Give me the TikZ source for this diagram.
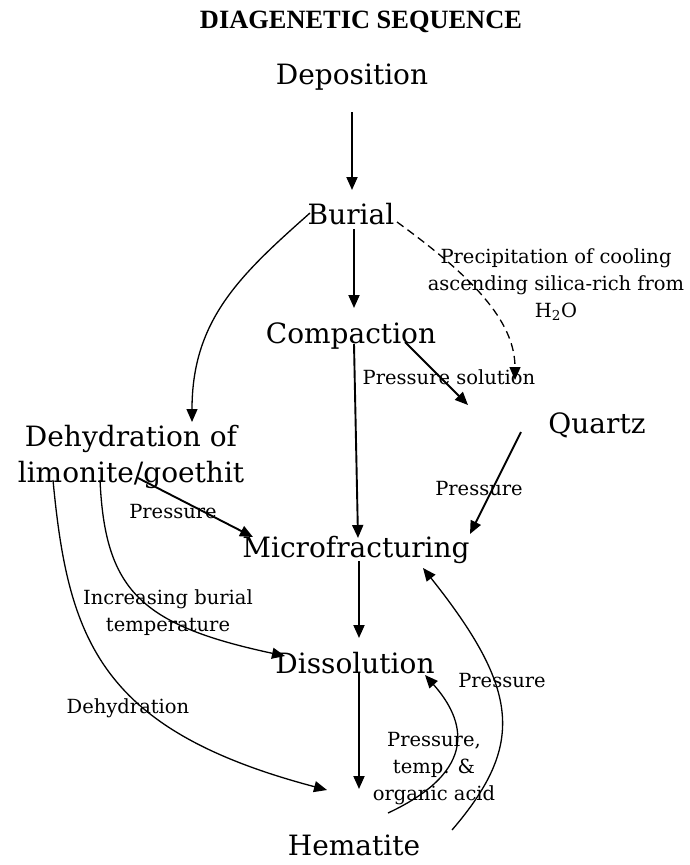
\documentclass[tikz,border=0pt]{standalone}
\usepackage{fontspec}
\setmainfont{DejaVu Serif}
\newfontfamily\titlefont{Liberation Serif}
\usetikzlibrary{arrows.meta}
\begin{document}
\begin{tikzpicture}[x=1pt,y=-1pt,
  stage/.style={font=\fontsize{28}{36}\selectfont, inner sep=0pt, anchor=base},
  lbl/.style={font=\fontsize{19.5}{27}\selectfont, inner sep=0pt, align=center},
  arr/.style={line width=1.9pt, -{Triangle[length=13pt,width=11pt]}},
  carr/.style={line width=1.3pt, -{Triangle[length=13pt,width=11pt]}},
]
\useasboundingbox (0,0) rectangle (690,865);
\node[inner sep=0pt, anchor=base, font=\titlefont\bfseries\fontsize{26.4}{30}\selectfont] (title) at (361,28) {DIAGENETIC SEQUENCE};
% stages
\node[stage] (dep) at (352,84) {Deposition};
\node[stage] (bur) at (351,224) {Burial};
\node[stage] (com) at (351,343) {Compaction};
\node[stage] (qua) at (597,433) {Quartz};
\node[stage, align=center, anchor=center] (lim) at (131,457) {Dehydration of\\limonite/goethit};
\node[stage] (mic) at (356,557) {Microfracturing};
\node[stage] (dis) at (355,673) {Dissolution};
\node[stage] (hem) at (354,855) {Hematite};
% labels
\node[lbl] (l1) at (556,285) {Precipitation of cooling\\ascending silica-rich from\\H\textsubscript{2}O};
\node[lbl, anchor=base] (l2) at (449,384) {Pressure solution};
\node[lbl, anchor=base] (l3) at (479,495) {Pressure};
\node[lbl, anchor=base] (l4) at (173,518) {Pressure};
\node[lbl] (l5) at (168,613) {Increasing burial\\temperature};
\node[lbl, anchor=base] (l6) at (128,713) {Dehydration};
\node[lbl, anchor=base] (l7) at (502,687) {Pressure};
\node[lbl] (l8) at (434,769) {Pressure,\\temp. \&\\organic acid};
% connector end points
\coordinate (a1) at (352,112); \coordinate (a2) at (352,190);
\coordinate (b1) at (354,229); \coordinate (b2) at (354,308);
\coordinate (c1) at (354,344); \coordinate (c2) at (358,538);
\coordinate (d1) at (359,561); \coordinate (d2) at (359,638);
\coordinate (e1) at (359,673); \coordinate (e2) at (359,789);
\coordinate (f1) at (405,342); \coordinate (f2) at (468,405);
\coordinate (g1) at (521,432); \coordinate (g2) at (470,534);
\coordinate (h1) at (138,478); \coordinate (h2) at (253,537);
\coordinate (i1) at (397,222); \coordinate (i2) at (515,380);
\coordinate (j1) at (310,213); \coordinate (j2) at (192,422);
\coordinate (k1) at (100,480); \coordinate (k2) at (285,656);
\coordinate (m1) at (53,480);  \coordinate (m2) at (327,790);
\coordinate (n1) at (388,813); \coordinate (n2) at (425,675);
\coordinate (p1) at (452,830); \coordinate (p2) at (423,568);
% straight arrows
\draw[arr] (a1) -- (a2);
\draw[arr] (b1) -- (b2);
\draw[arr] (c1) -- (c2);
\draw[arr] (d1) -- (d2);
\draw[arr] (e1) -- (e2);
\draw[arr] (f1) -- (f2);
\draw[arr] (g1) -- (g2);
\draw[arr] (h1) -- (h2);
% curved arrows
\draw[carr, dash pattern=on 8pt off 5pt] (i1) .. controls (470,275) and (515,320) .. (i2);
\draw[carr] (j1) .. controls (240,275) and (192,320) .. (j2);
\draw[carr] (k1) .. controls (105,590) and (140,625) .. (k2);
\draw[carr] (m1) .. controls (68,640) and (100,730) .. (m2);
\draw[carr] (n1) .. controls (480,770) and (465,720) .. (n2);
\draw[carr] (p1) .. controls (525,745) and (520,690) .. (p2);
\end{tikzpicture}
\end{document}
